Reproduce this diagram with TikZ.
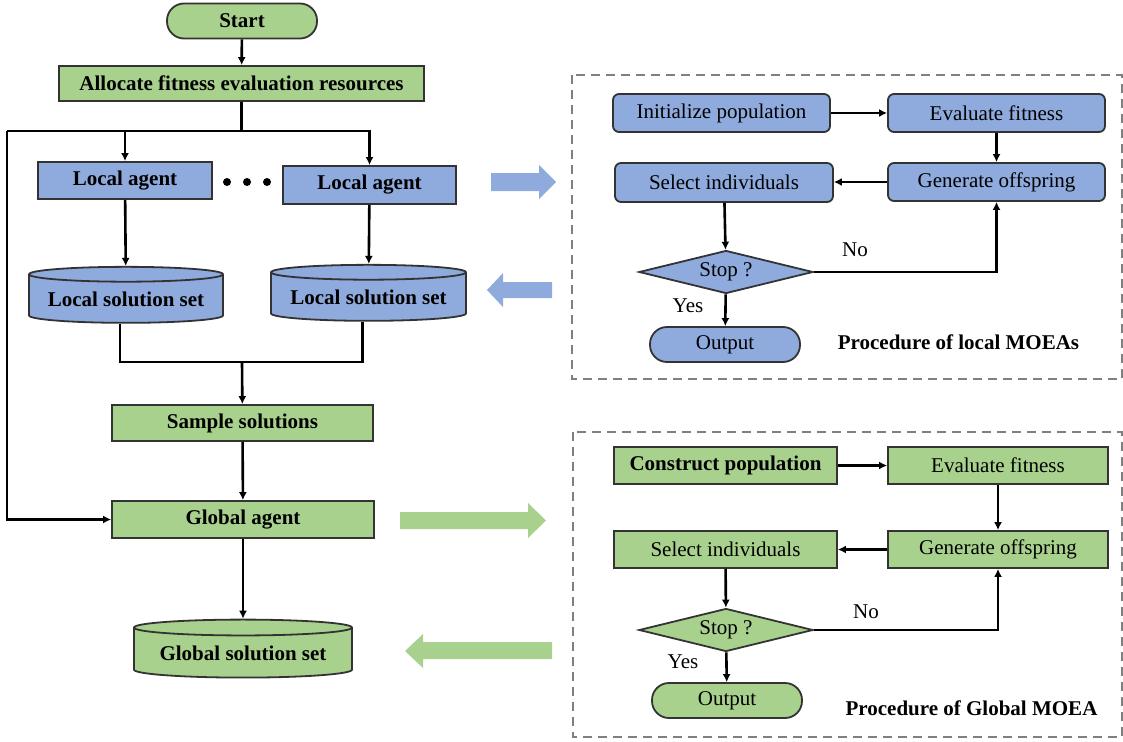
\documentclass[tikz,border=0pt]{standalone}
\usepackage{fontspec}
\setmainfont{Liberation Serif}
\usetikzlibrary{arrows.meta,positioning,shapes.geometric}
\definecolor{greenfill}{HTML}{A9D18E}
\definecolor{bluefill}{HTML}{8FAADC}
\definecolor{edge}{HTML}{333333}
\definecolor{panelgray}{HTML}{808080}

\begin{document}
\begin{tikzpicture}[x=1pt, y=-1pt,
    font=\fontsize{21}{25}\selectfont,
    bold/.style={font=\fontsize{21}{25}\selectfont\bfseries},
    box/.style={draw=edge, line width=1.8pt, align=center, inner sep=0pt,
                minimum height=36pt},
    gbox/.style={box, fill=greenfill},
    bbox/.style={box, fill=bluefill},
    rbox/.style={bbox, rounded corners=6pt},
    term/.style={draw=edge, line width=1.8pt, rounded corners=17pt,
                 minimum width=150pt, minimum height=35pt},
    db/.style={cylinder, shape border rotate=90, aspect=0.095, draw=edge,
               line width=1.8pt, minimum height=56pt, inner sep=0pt},
    test/.style={diamond, draw=edge, line width=1.8pt, aspect=4,
                 minimum width=174pt, minimum height=43pt, inner sep=0pt},
    line/.style={line width=2.6pt},
    arrow/.style={line, -{Latex[length=8pt, width=8pt]}},
    panel/.style={draw=panelgray, line width=2pt, dash pattern=on 9pt off 6pt}
  ]
    \useasboundingbox (0,0) rectangle (1123,741);

    % left column
    \node[term, fill=greenfill, bold] (start) at (242,21) {Start};
    \node[gbox, bold, minimum width=365pt, minimum height=35pt] (alloc) at (241.5,83.5) {Allocate fitness evaluation resources};
    \node[bbox, bold, minimum width=174pt, minimum height=37pt] (la1) at (125,180.5) {Local agent};
    \node[bbox, bold, minimum width=173pt, minimum height=38pt] (la2) at (369.5,185) {Local agent};
    \foreach \dx in {227,247,267}
      \fill (\dx,182) circle (4);
    \node[db, fill=bluefill, bold, minimum width=194pt] (ls1) at (126,299) {Local solution set};
    \node[db, fill=bluefill, bold, minimum width=195pt] (ls2) at (368.5,297) {Local solution set};
    \node[gbox, bold, minimum width=261pt] (samp) at (242.5,423) {Sample solutions};
    \node[gbox, bold, minimum width=262pt, minimum height=37pt] (ga) at (243,519.5) {Global agent};
    \node[db, fill=greenfill, bold, minimum width=218pt, minimum height=58pt] (gs) at (243,653) {Global solution set};

    \coordinate (bus) at (7,131);
    \coordinate (merge) at (242,362);
    \draw[arrow] (start) -- (alloc);
    \draw[line] (alloc.south) -- (alloc.south |- bus);
    \draw[arrow] (bus) -| (la2.north);
    \draw[arrow] (la1.north |- bus) -- (la1.north);
    \draw[arrow] (bus) |- (ga.west);
    \draw[arrow] (la1) -- (ls1);
    \draw[arrow] (la2) -- (ls2);
    \draw[line] ([xshift=-6pt]ls1.south) |- (merge) -| ([xshift=-6pt]ls2.south);
    \draw[arrow] (merge) -- (samp);
    \draw[arrow] (samp) -- (ga);
    \draw[arrow] (ga) -- (gs);

    % fat arrows between the columns
    \fill[bluefill] (491,173) -- (539,173) -- (539,165) -- (556,182) -- (539,199) -- (539,191) -- (491,191) -- cycle;
    \fill[bluefill] (552,282) -- (503,282) -- (503,273) -- (487,290) -- (503,307) -- (503,298) -- (552,298) -- cycle;
    \fill[greenfill] (400,512) -- (528,512) -- (528,503) -- (546,520.5) -- (528,538) -- (528,529) -- (400,529) -- cycle;
    \fill[greenfill] (552,642) -- (423,642) -- (423,634) -- (405,651) -- (423,668) -- (423,659) -- (552,659) -- cycle;

    % procedure of local MOEAs
    \draw[panel] (572,75) rectangle (1122,379);
    \node[rbox, minimum width=217pt, minimum height=38pt] (initl) at (721.5,113) {Initialize population};
    \node[rbox, minimum width=217pt, minimum height=38pt] (evall) at (996.5,113) {Evaluate fitness};
    \node[rbox, minimum width=218pt, minimum height=39pt] (sell) at (724,182.5) {Select individuals};
    \node[rbox, minimum width=217pt, minimum height=38pt] (genl) at (996.5,182) {Generate offspring};
    \node[test, fill=bluefill] (stopl) at (726,272) {Stop ?};
    \node[term, fill=bluefill] (outl) at (725,344.5) {Output};
    \node (nol) at (855,250) {No};
    \node (yesl) at (688,306) {Yes};
    \node[bold] (titl) at (958.5,342) {Procedure of local MOEAs};

    \draw[arrow] (initl) -- (evall);
    \draw[arrow] (evall) -- (genl);
    \draw[arrow] (genl.west) -- (genl.west -| sell.east);
    \draw[arrow] (sell) -- (stopl);
    \draw[arrow] (stopl) -- (outl);
    \draw[arrow] (stopl.east) -| (genl.south);

    % procedure of global MOEA
    \draw[panel] (573,432) rectangle (1122,737);
    \node[gbox, bold, minimum width=223pt, minimum height=37pt] (consg) at (725.5,465.5) {Construct population};
    \node[gbox, minimum width=220pt, minimum height=37pt] (evalg) at (998,465.5) {Evaluate fitness};
    \node[gbox, minimum width=223pt, minimum height=37pt] (selg) at (725.5,549.5) {Select individuals};
    \node[gbox, minimum width=220pt, minimum height=37pt] (geng) at (998,549.5) {Generate offspring};
    \node[test, fill=greenfill] (stopg) at (726,630) {Stop ?};
    \node[term, fill=greenfill] (outg) at (727,700.5) {Output};
    \node (nog) at (866,612) {No};
    \node (yesg) at (683,662) {Yes};
    \node[bold] (titg) at (971.5,708) {Procedure of Global MOEA};

    \draw[arrow] (consg) -- (evalg);
    \draw[arrow] (evalg) -- (geng);
    \draw[arrow] (geng) -- (selg);
    \draw[arrow] (selg) -- (stopg);
    \draw[arrow] (stopg) -- (outg);
    \draw[arrow] (stopg.east) -| (geng.south);
  \end{tikzpicture}
\end{document}
